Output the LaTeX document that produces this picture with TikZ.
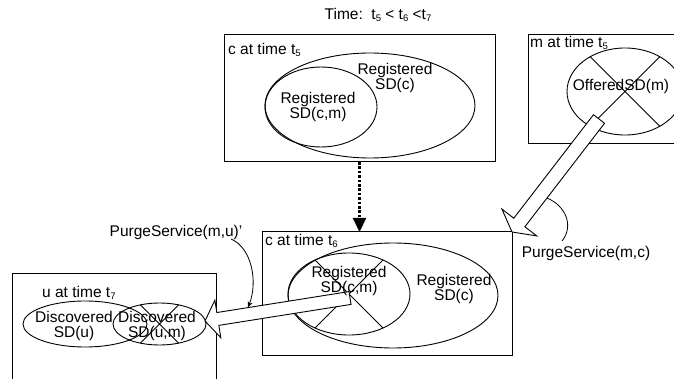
\documentclass[tikz,border=0pt]{standalone}
\usepackage{fontspec}
\setmainfont{Liberation Sans}
\usetikzlibrary{shapes.geometric,arrows.meta,calc}
\newcommand{\tsb}[1]{\raisebox{-0.3ex}{\fontsize{9.5}{9.5}\selectfont #1}}
\newcommand{\fatarrow}[5]{%
  \coordinate (fab) at ($(#2)!#4!(#1)$);
  \draw[fat] (#2) -- ($(fab)!#5!90:(#2)$) -- ($(fab)!#3!90:(#2)$) -- ($(#1)!#3!90:(#2)$) -- ($(#1)!#3!-90:(#2)$) -- ($(fab)!#3!-90:(#2)$) -- ($(fab)!#5!-90:(#2)$) -- cycle;}
\begin{document}
\begin{tikzpicture}[x=1pt,y=-1pt,
  box/.style={draw, line width=1pt, rectangle, inner sep=0pt, outer sep=0pt},
  ell/.style={draw, line width=0.9pt, ellipse, inner sep=0pt, outer sep=0pt},
  lbl/.style={font=\fontsize{15.5}{15}\selectfont, inner sep=0pt, align=center},
  crossline/.style={line width=0.8pt},
  fat/.style={draw, fill=white, line width=0.9pt, line join=miter},
  dots/.style={line width=2.2pt, dash pattern=on 2.6pt off 1.8pt, -{Triangle[length=14pt,width=13pt]}},
  thinline/.style={line width=0.8pt}]
\fill[white] (0,0) rectangle (674,379);
\useasboundingbox (0,0) rectangle (674,379);
\clip (0,0) rectangle (674,379);

% boxes
\node[box, minimum width=271pt, minimum height=127pt] (c5) at (359.5,98.5) {};
\node[box, minimum width=250pt, minimum height=123pt] (c6) at (387,293.5) {};
\draw[line width=1pt] (676,35) -| (528,144) -- (676,144);
\draw[line width=1pt] (12,381) |- (216,273) -- (216,381);

% ellipses
\node[ell, minimum width=210pt, minimum height=105pt] (c5big) at (370,105.5) {};
\node[ell, minimum width=112pt, minimum height=80pt] (c5small) at (321,107) {};
\node[ell, minimum width=116pt, minimum height=87pt] (mell) at (625,91.5) {};
\node[ell, minimum width=210pt, minimum height=105pt] (c6big) at (393,295.5) {};
\node[ell, minimum width=122pt, minimum height=82pt] (c6small) at (349,294) {};
\node[ell, minimum width=124pt, minimum height=46pt] (uleft) at (85,324) {};
\node[ell, minimum width=93pt, minimum height=42pt] (uright) at (159.5,324) {};

% crosses
\draw[crossline] (mell.45) -- (mell.-135) (mell.135) -- (mell.-45);
\draw[crossline] (c6small.45) -- (c6small.-135) (c6small.135) -- (c6small.-45);
\draw[crossline] (uright.45) -- (uright.-135) (uright.135) -- (uright.-45);

% dotted arrow
\draw[dots] (c5.south) -- (c5.south |- c6.north);

% fat arrows
\coordinate (mtail) at (599,119);
\fatarrow{mtail}{c6.north east}{7pt}{12pt}{22pt}
\coordinate (ctail) at (350,298);
\coordinate (utip) at (205,321);
\fatarrow{ctail}{utip}{6.5pt}{13pt}{19pt}

% texts
\node[lbl] (title) at (378,15) {Time:\ \ t\tsb{5} < t\tsb{6} <t\tsb{7}};
\node[lbl, anchor=west] (c5lab) at (228,50) {c at time t\tsb{5}};
\node[lbl] (c5bigtxt) at (395,77.5) {Registered\\SD(c)};
\node[lbl] (c5smalltxt) at (318,107) {Registered\\SD(c,m)};
\node[lbl, anchor=west] (mlab) at (530,43) {m at time t\tsb{5}};
\node[lbl] (mtxt) at (621,86) {OfferedSD(m)};
\node[lbl, anchor=west] (c6lab) at (265,241) {c at time t\tsb{6}};
\node[lbl] (c6smalltxt) at (349,280.5) {Registered\\SD(c,m)};
\node[lbl] (c6bigtxt) at (454,288.5) {Registered\\SD(c)};
\node[lbl, anchor=west] (ulab) at (42,293) {u at time t\tsb{7}};
\node[lbl] (ulefttxt) at (74,326) {Discovered\\SD(u)};
\node[lbl] (urighttxt) at (157,326) {Discovered\\SD(u,m)};
\node[lbl] (pmu) at (176,232) {PurgeService(m,u)'};
\node[lbl] (pmc) at (586,253) {PurgeService(m,c)};

% curved markers
\coordinate (pmustart) at (231,239);
\coordinate (pmuend) at (248,307.5);
\draw[thinline, -{Stealth[length=6pt,width=5pt]}] (pmustart) .. controls (252,248) and (258,282) .. (pmuend);
\coordinate (pmcs) at (547,198);
\coordinate (pmce) at (562,241);
\draw[thinline] (pmcs) .. controls (566,206) and (574,226) .. (pmce);
\end{tikzpicture}
\end{document}
